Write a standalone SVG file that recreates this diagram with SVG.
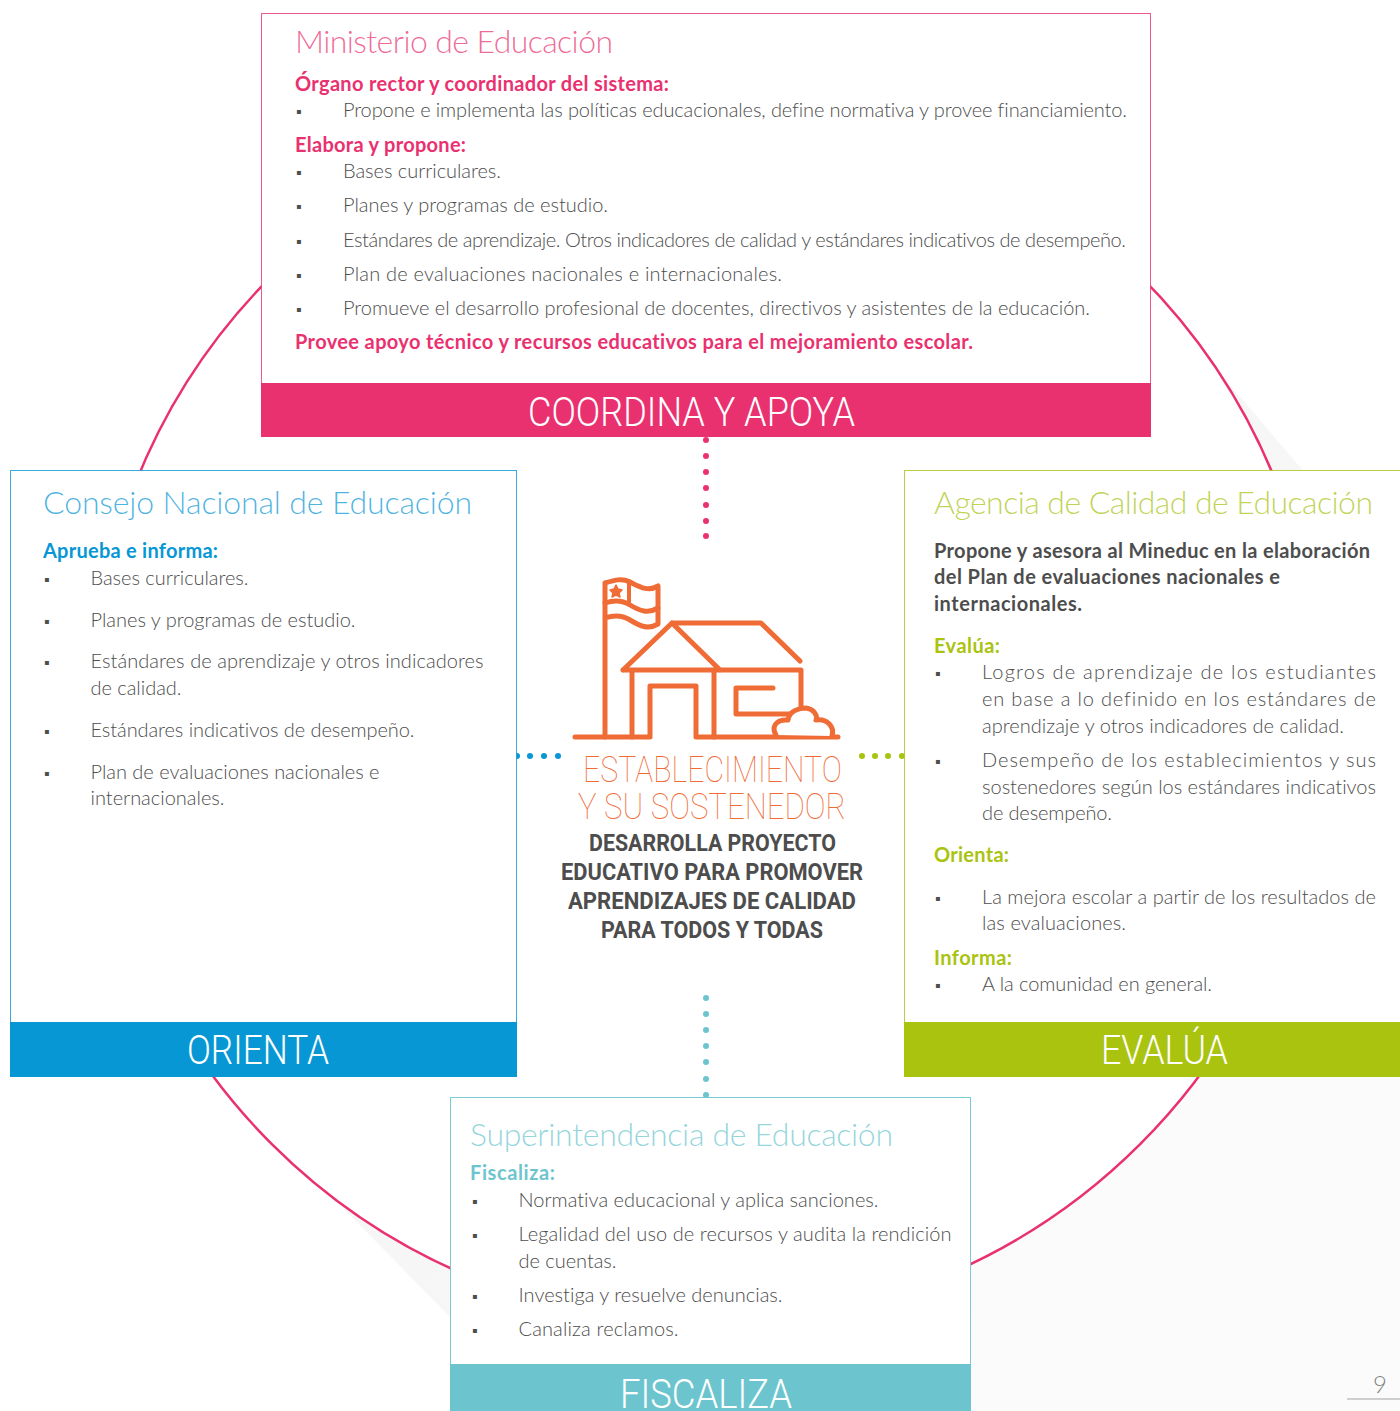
<svg xmlns="http://www.w3.org/2000/svg" width="1400" height="1411" viewBox="0 0 1400 1411">
<style>
text{font-family:"Lato","Open Sans",sans-serif;white-space:pre;font-variant-ligatures:none}
.t{font-size:20px;font-weight:300;fill:#4d4d4d}
.h{font-size:20px;font-weight:700}
.d{font-size:20px;font-weight:700;fill:#4d4d4d}
.c{font-family:"Roboto",sans-serif;font-size:23.5px;font-weight:700;fill:#4d4d4d}
.title{font-size:32px;font-weight:300;fill-opacity:.72}
.bar{font-family:"Roboto",sans-serif;font-size:41px;font-weight:300;fill:#fff}
.e{font-family:"Roboto",sans-serif;font-size:36px;font-weight:100;fill:#f06c37}
.b{font-family:"DejaVu Sans",sans-serif;font-size:8px;fill:#4d4d4d}
.ic{fill:none;stroke:#f06c37;stroke-width:5;stroke-linecap:round;stroke-linejoin:round}
.pk{fill:#ea3170}.bl{fill:#0797d5}.gr{fill:#a9c30f}.te{fill:#6cc5ce}
</style>
<defs>
<linearGradient id="sh" gradientUnits="userSpaceOnUse" x1="850" y1="850" x2="1150" y2="1150"><stop offset="0" stop-color="#f6f6f6"/><stop offset="1" stop-color="#fbfbfb"/></linearGradient>
</defs>
<rect width="1400" height="1411" fill="#fff"/>
<polygon id="shadow" points="1140,280 1400,584 1400,1411 542,1411 294,1158" fill="url(#sh)"/>
<circle id="ring" cx="706" cy="710" r="614" fill="#fff" stroke="#ea3170" stroke-width="2.5"/>
<g id="connectors">
<g class="pk"><circle cx="706" cy="440" r="3"/><circle cx="706" cy="456" r="3"/><circle cx="706" cy="472" r="3"/><circle cx="706" cy="488" r="3"/><circle cx="706" cy="505" r="3"/><circle cx="706" cy="521" r="3"/><circle cx="706" cy="536" r="3"/></g>
<g class="bl"><circle cx="517" cy="756" r="3"/><circle cx="530" cy="756" r="3"/><circle cx="544" cy="756" r="3"/><circle cx="558" cy="756" r="3"/></g>
<g class="gr"><circle cx="862" cy="756" r="3"/><circle cx="875" cy="756" r="3"/><circle cx="888" cy="756" r="3"/><circle cx="902" cy="756" r="3"/></g>
<g class="te"><circle cx="706" cy="998" r="3"/><circle cx="706" cy="1014" r="3"/><circle cx="706" cy="1030" r="3"/><circle cx="706" cy="1046" r="3"/><circle cx="706" cy="1062" r="3"/><circle cx="706" cy="1079" r="3"/><circle cx="706" cy="1095" r="3"/></g>
</g>
<g id="ministerio">
<rect x="261.5" y="13.5" width="889" height="375" fill="#fff" stroke="#ea3170" stroke-opacity=".8"/>
<rect x="261" y="383" width="890" height="54" class="pk"/>
<text x="295" y="53" class="title pk" textLength="318">Ministerio de Educación</text>
<text x="295" y="91" class="h pk" textLength="374">Órgano rector y coordinador del sistema:</text>
<text x="296" y="114" class="b">▪</text><text x="343" y="117" class="t" textLength="784">Propone e implementa las políticas educacionales, define normativa y provee financiamiento.</text>
<text x="295" y="152" class="h pk" textLength="171">Elabora y propone:</text>
<text x="296" y="175" class="b">▪</text><text x="343" y="178" class="t" textLength="158">Bases curriculares.</text>
<text x="296" y="209" class="b">▪</text><text x="343" y="212" class="t" textLength="265">Planes y programas de estudio.</text>
<text x="296" y="244" class="b">▪</text><text x="343" y="247" class="t" textLength="783">Estándares de aprendizaje. Otros indicadores de calidad y estándares indicativos de desempeño.</text>
<text x="296" y="278" class="b">▪</text><text x="343" y="281" class="t" textLength="439">Plan de evaluaciones nacionales e internacionales.</text>
<text x="296" y="312" class="b">▪</text><text x="343" y="315" class="t" textLength="747">Promueve el desarrollo profesional de docentes, directivos y asistentes de la educación.</text>
<text x="295" y="349" class="h pk" textLength="678">Provee apoyo técnico y recursos educativos para el mejoramiento escolar.</text>
<text x="528" y="426" class="bar" textLength="327" lengthAdjust="spacingAndGlyphs">COORDINA Y APOYA</text>
</g>
<g id="consejo">
<rect x="10.5" y="470.5" width="506" height="560" fill="#fff" stroke="#0797d5" stroke-opacity=".8"/>
<rect x="10" y="1022" width="507" height="55" class="bl"/>
<text x="43" y="514" class="title bl" textLength="429">Consejo Nacional de Educación</text>
<text x="43" y="558" class="h bl" textLength="175">Aprueba e informa:</text>
<text x="44" y="582" class="b">▪</text><text x="90.500" y="585" class="t" textLength="158">Bases curriculares.</text>
<text x="44" y="624" class="b">▪</text><text x="90.500" y="627" class="t" textLength="265">Planes y programas de estudio.</text>
<text x="44" y="665" class="b">▪</text><text x="90.500" y="668" class="t" textLength="393">Estándares de aprendizaje y otros indicadores</text>
<text x="90.500" y="695" class="t" textLength="91">de calidad.</text>
<text x="44" y="734" class="b">▪</text><text x="90.500" y="737" class="t" textLength="324">Estándares indicativos de desempeño.</text>
<text x="44" y="776" class="b">▪</text><text x="90.500" y="779" class="t" textLength="289">Plan de evaluaciones nacionales e</text>
<text x="90.500" y="805" class="t" textLength="134">internacionales.</text>
<text x="187" y="1064" class="bar" textLength="142" lengthAdjust="spacingAndGlyphs">ORIENTA</text>
</g>
<g id="agencia">
<rect x="904.5" y="470.5" width="500" height="560" fill="#fff" stroke="#a9c30f" stroke-opacity=".8"/>
<rect x="904" y="1022" width="496" height="55" class="gr"/>
<text x="934" y="514" class="title gr" textLength="439">Agencia de Calidad de Educación</text>
<text x="934" y="558" class="d" textLength="436">Propone y asesora al Mineduc en la elaboración</text>
<text x="934" y="584" class="d" textLength="346">del Plan de evaluaciones nacionales e</text>
<text x="934" y="611" class="d" textLength="148">internacionales.</text>
<text x="934" y="653" class="h gr" textLength="66">Evalúa:</text>
<text x="935" y="676" class="b">▪</text><text x="982" y="679" class="t" textLength="394">Logros de aprendizaje de los estudiantes</text>
<text x="982" y="706" class="t" textLength="394">en base a lo definido en los estándares de</text>
<text x="982" y="733" class="t" textLength="362">aprendizaje y otros indicadores de calidad.</text>
<text x="935" y="764" class="b">▪</text><text x="982" y="767" class="t" textLength="394">Desempeño de los establecimientos y sus</text>
<text x="982" y="794" class="t" textLength="394">sostenedores según los estándares indicativos</text>
<text x="982" y="820" class="t" textLength="130">de desempeño.</text>
<text x="934" y="862" class="h gr" textLength="75">Orienta:</text>
<text x="935" y="901" class="b">▪</text><text x="982" y="904" class="t" textLength="394">La mejora escolar a partir de los resultados de</text>
<text x="982" y="930" class="t" textLength="144">las evaluaciones.</text>
<text x="934" y="965" class="h gr" textLength="78">Informa:</text>
<text x="935" y="988" class="b">▪</text><text x="982" y="991" class="t" textLength="230">A la comunidad en general.</text>
<text x="1101" y="1064" class="bar" textLength="127" lengthAdjust="spacingAndGlyphs">EVALÚA</text>
</g>
<g id="superintendencia">
<rect x="450.5" y="1097.5" width="520" height="275" fill="#fff" stroke="#6cc5ce" stroke-opacity=".9"/>
<rect x="450" y="1364" width="521" height="47" class="te"/>
<text x="470" y="1146" class="title te" textLength="423">Superintendencia de Educación</text>
<text x="470" y="1180" class="h te" textLength="85">Fiscaliza:</text>
<text x="472" y="1204" class="b">▪</text><text x="518.500" y="1207" class="t" textLength="360">Normativa educacional y aplica sanciones.</text>
<text x="472" y="1238" class="b">▪</text><text x="518.500" y="1241" class="t" textLength="433">Legalidad del uso de recursos y audita la rendición</text>
<text x="518.500" y="1268" class="t" textLength="98">de cuentas.</text>
<text x="472" y="1299" class="b">▪</text><text x="518.500" y="1302" class="t" textLength="264">Investiga y resuelve denuncias.</text>
<text x="472" y="1333" class="b">▪</text><text x="518.500" y="1336" class="t" textLength="160">Canaliza reclamos.</text>
<text x="620" y="1408" class="bar" textLength="172" lengthAdjust="spacingAndGlyphs">FISCALIZA</text>
</g>
<g id="establecimiento">
<g class="ic">
<path d="M575 737H650V686H696V737H838"/>
<path d="M605 737V583C615 580 622 578 630 582C640 587 648 592 658 586V624C648 630 640 626 630 620C622 615 614 615 605 618"/>
<path d="M605 603C614 600 622 600 630 605C640 611 648 614 658 608"/>
<path d="M629 581V603" stroke-width="4"/>
<path d="M623 670H801V713M632 670V737M714 670V737M672 623L623 670M672 623L720 670M672 623H761L800 661"/>
<path d="M736 688H773M736 688V714H790"/>
<path d="M776 735C771 727 776 719 788 720C789 711 799 708 806 708C814 709 818 716 816 720C826 718 835 726 832 736" fill="#fff"/>
</g>
<polygon points="616,585 618,589 622,590 619,593 620,597 616,595 612,597 613,593 610,590 614,589" fill="#f06c37" stroke="#f06c37" stroke-width="1.500" stroke-linejoin="round"/>
<text x="583" y="782" class="e" textLength="259" lengthAdjust="spacingAndGlyphs">ESTABLECIMIENTO</text>
<text x="578" y="819" class="e" textLength="268" lengthAdjust="spacingAndGlyphs">Y SU SOSTENEDOR</text>
<text x="589" y="851" class="c" textLength="247" lengthAdjust="spacingAndGlyphs">DESARROLLA PROYECTO</text>
<text x="561" y="880" class="c" textLength="302" lengthAdjust="spacingAndGlyphs">EDUCATIVO PARA PROMOVER</text>
<text x="568" y="909" class="c" textLength="288" lengthAdjust="spacingAndGlyphs">APRENDIZAJES DE CALIDAD</text>
<text x="601" y="938" class="c" textLength="222" lengthAdjust="spacingAndGlyphs">PARA TODOS Y TODAS</text>
</g>
<g id="page">
<text x="1380" y="1393" text-anchor="middle" font-size="24" font-weight="300" fill="#808080">9</text>
<rect x="1347" y="1398" width="53" height="2" fill="#cfcfcf"/>
</g>
</svg>
